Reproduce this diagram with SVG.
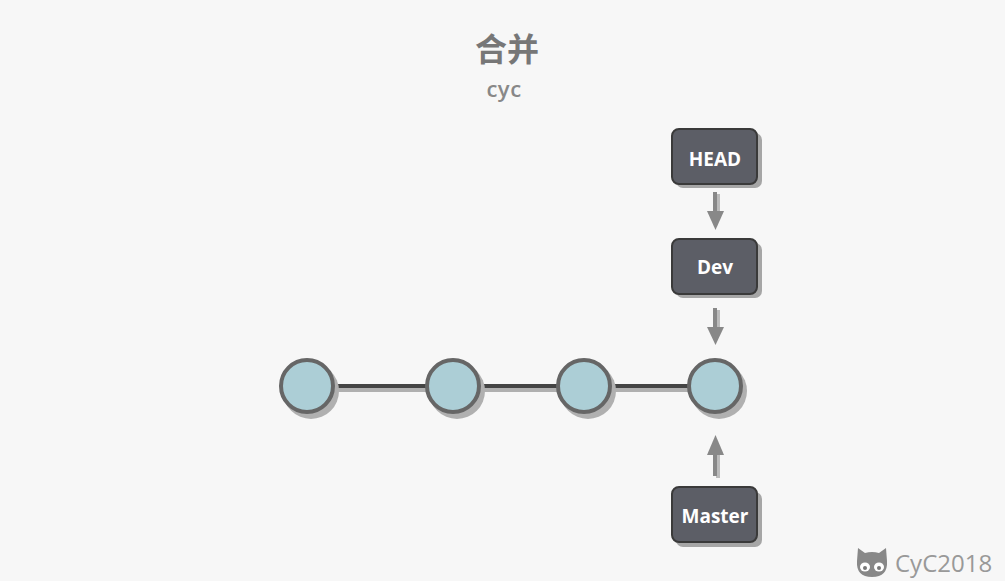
<svg xmlns="http://www.w3.org/2000/svg" width="1005" height="581" viewBox="0 0 1005 581">
<defs>
<style>
.box{fill:#5c5e66;stroke:#3a3a3a;stroke-width:2}
.bshadow{fill:#a6a6a6}
.lbl{font-family:"Open Sans","Noto Sans",sans-serif;font-weight:bold;font-size:19px;fill:#ffffff;text-anchor:middle}
.node{fill:#acced6;stroke:#666666;stroke-width:4}
.nshadow{fill:#b0b0b0}
.shaft{stroke:#888888;stroke-width:4}
.shaftsh{stroke:#bbbbbb;stroke-width:4}
.head{fill:#888888}
</style>
</defs>
<rect width="1005" height="581" fill="#f7f7f7"/>
<text x="507" y="61" font-family="Noto Sans CJK SC,sans-serif" font-weight="bold" font-size="32" fill="#777777" text-anchor="middle">合并</text>
<text x="504" y="97" font-family="Open Sans,Noto Sans,sans-serif" font-weight="600" font-size="22" letter-spacing="0.5" fill="#888888" text-anchor="middle">cyc</text>

<g id="connectors">
<line x1="307" y1="390" x2="715" y2="390" stroke="#b0b0b0" stroke-width="4"/>
<line x1="307" y1="386" x2="715" y2="386" stroke="#444444" stroke-width="4"/>
<line class="shaftsh" x1="718" y1="194" x2="718" y2="214"/>
<line class="shaft" x1="715" y1="192" x2="715" y2="214"/>
<polygon class="head" points="707,211 724,211 715.5,230"/>
<line class="shaftsh" x1="718" y1="310" x2="718" y2="330"/>
<line class="shaft" x1="715" y1="308" x2="715" y2="330"/>
<polygon class="head" points="707,327 724,327 715.5,345"/>
<line class="shaftsh" x1="718" y1="454" x2="718" y2="478"/>
<line class="shaft" x1="715" y1="452" x2="715" y2="476"/>
<polygon class="head" points="707,455 724,455 715.5,435"/>
</g>

<g id="n1"><circle class="nshadow" cx="311" cy="391" r="28"/><circle class="node" cx="307" cy="386" r="26"/></g>
<g id="n2"><circle class="nshadow" cx="457" cy="391" r="28"/><circle class="node" cx="453" cy="386" r="26"/></g>
<g id="n3"><circle class="nshadow" cx="588" cy="391" r="28"/><circle class="node" cx="584" cy="386" r="26"/></g>
<g id="n4"><circle class="nshadow" cx="719" cy="391" r="28"/><circle class="node" cx="715" cy="386" r="26"/></g>

<g id="head"><rect class="bshadow" x="676" y="133" width="86" height="55" rx="7"/><rect class="box" x="672" y="129" width="85" height="55" rx="7"/><text class="lbl" x="715" y="166">HEAD</text></g>
<g id="dev"><rect class="bshadow" x="676" y="243" width="86" height="55" rx="7"/><rect class="box" x="672" y="239" width="85" height="55" rx="7"/><text class="lbl" x="715" y="274">Dev</text></g>
<g id="master"><rect class="bshadow" x="676" y="492" width="86" height="55" rx="7"/><rect class="box" x="672" y="487" width="85" height="55" rx="7"/><text class="lbl" x="715" y="523">Master</text></g>

<g id="logo">
<path d="M857,561 L858,548 L865,553 Q872,551 879,553 L886,548 L887,561 Q888,577 872,577 Q856,577 857,561 Z" fill="#888888"/>
<ellipse cx="865" cy="567" rx="5" ry="4.5" fill="#ffffff"/>
<ellipse cx="879" cy="567" rx="5" ry="4.5" fill="#ffffff"/>
<circle cx="865" cy="568" r="2" fill="#777777"/>
<circle cx="879" cy="568" r="2" fill="#777777"/>
<text x="895" y="572" font-family="Open Sans,Noto Sans,sans-serif" font-size="24" fill="#999999">CyC2018</text>
</g>
</svg>
